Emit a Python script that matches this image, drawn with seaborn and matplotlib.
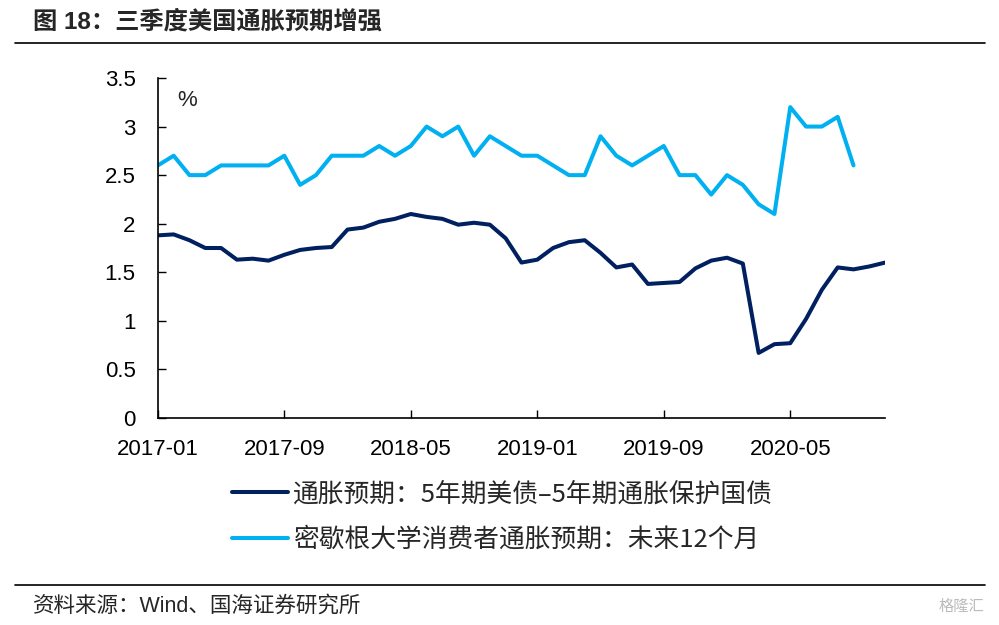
import numpy as np
import pandas as pd
import seaborn as sns
from matplotlib import pyplot as plt
from matplotlib.lines import Line2D

# monthly, 2017-01 .. 2020-11
months = [d.strftime("%Y-%m") for d in pd.date_range("2017-01-01", "2020-11-01", freq="MS")]

# 5y Treasury minus 5y TIPS breakeven
breakeven = [1.88, 1.89, 1.83, 1.75, 1.75, 1.63, 1.64, 1.62, 1.68, 1.73,
             1.75, 1.76, 1.94, 1.96, 2.02, 2.05, 2.10, 2.07, 2.05, 1.99,
             2.01, 1.99, 1.85, 1.60, 1.63, 1.75, 1.81, 1.83, 1.70, 1.55,
             1.58, 1.38, 1.39, 1.40, 1.54, 1.62, 1.65, 1.59, 0.67, 0.76,
             0.77, 1.02, 1.32, 1.55, 1.53, 1.56, 1.60]

# University of Michigan 1y-ahead inflation expectations
michigan = [2.6, 2.7, 2.5, 2.5, 2.6, 2.6, 2.6, 2.6, 2.7, 2.4,
            2.5, 2.7, 2.7, 2.7, 2.8, 2.7, 2.8, 3.0, 2.9, 3.0,
            2.7, 2.9, 2.8, 2.7, 2.7, 2.6, 2.5, 2.5, 2.9, 2.7,
            2.6, 2.7, 2.8, 2.5, 2.5, 2.3, 2.5, 2.4, 2.2, 2.1,
            3.2, 3.0, 3.0, 3.1, 2.6]

label_dark = "通胀预期：5年期美债–5年期通胀保护国债"
label_light = "密歇根大学消费者通胀预期：未来12个月"

sns.set_theme(style="white")
cjk = ["Noto Sans CJK SC", "DejaVu Sans"]
latin = ["Liberation Sans", "Noto Sans CJK SC"]
plt.rcParams["font.family"] = latin

fig = plt.figure(figsize=(9.99, 6.25), dpi=100)
ax = fig.add_axes([0.158, 0.3312, 0.728, 0.544])

x_dark = np.arange(len(breakeven))
x_light = np.arange(len(michigan))
sns.lineplot(x=x_dark, y=breakeven, ax=ax, color="#002060", linewidth=2.9, label=label_dark)
sns.lineplot(x=x_light, y=michigan, ax=ax, color="#00B0F0", linewidth=2.9, label=label_light)

ax.set_xlim(0, len(months) - 1)
ax.set_ylim(0, 3.5)
ax.set_yticks(np.arange(0, 3.51, 0.5))
ax.set_yticklabels([f"{v:g}" for v in np.arange(0, 3.51, 0.5)])
ax.set_xticks(range(0, len(months), 8))
ax.set_xticklabels(months[::8])
ax.tick_params(axis="both", direction="in", length=6, width=1, colors="black",
               labelsize=16, bottom=True, left=True)
ax.tick_params(axis="y", pad=16)
ax.tick_params(axis="x", pad=15)
for s in ["top", "right"]:
    ax.spines[s].set_visible(False)
for s in ["left", "bottom"]:
    ax.spines[s].set_color("black")
    ax.spines[s].set_linewidth(1.2)

ax.text(0.04, 0.935, "%", transform=ax.transAxes, fontsize=16, ha="center", va="center")

ax.get_legend().remove()
handles, labels = ax.get_legend_handles_labels()
fig.legend(handles, labels, loc="center", bbox_to_anchor=(0.503, 1 - 517 / 625),
           frameon=False, ncol=1, handlelength=2.15, handletextpad=0.2,
           labelspacing=0.75, prop={"family": cjk, "size": 18.5})

fig.text(0.033, 1 - 22 / 625, "图 18：三季度美国通胀预期增强", fontsize=17.5,
         fontweight="bold", va="center", ha="left", family=latin)
fig.add_artist(Line2D([0.015, 0.986], [1 - 43 / 625] * 2, color="black", linewidth=1.2))
fig.add_artist(Line2D([0.015, 0.986], [1 - 585 / 625] * 2, color="black", linewidth=1.2))
fig.text(0.033, 1 - 606 / 625, "资料来源：Wind、国海证券研究所", fontsize=15.5,
         va="center", ha="left", family=latin)
fig.text(0.985, 1 - 606 / 625, "格隆汇", fontsize=11, color="#bbbbbb",
         va="center", ha="right", family=cjk)

fig.savefig("out.png", dpi=100)
